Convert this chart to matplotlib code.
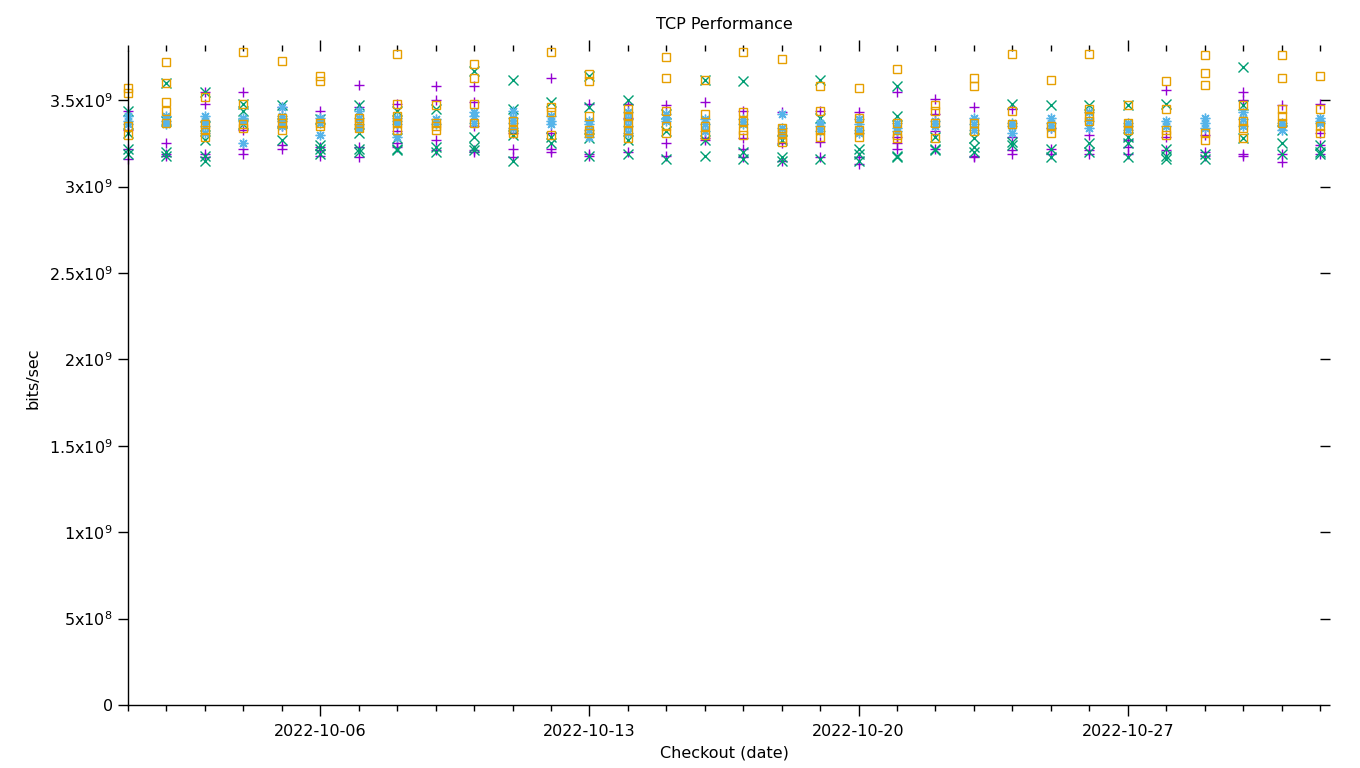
import datetime as dt
import math
import matplotlib
matplotlib.use("Agg")
import matplotlib.pyplot as plt
import matplotlib.dates as mdates
from matplotlib.ticker import FuncFormatter, FixedLocator

start = dt.date(2022, 10, 1)
dates = [start + dt.timedelta(days=i) for i in range(32)]

# values in units of 1e9 bits/sec, one list per day
series_purple = [
    [3.33, 3.22, 3.16, 3.44], [3.25, 3.18, 3.19], [3.55, 3.48, 3.17, 3.19], [3.55, 3.33, 3.22, 3.19],
    [3.46, 3.24, 3.22, 3.35], [3.44, 3.23, 3.18, 3.21], [3.59, 3.46, 3.23, 3.17], [3.48, 3.25, 3.23, 3.32],
    [3.58, 3.50, 3.27, 3.21], [3.58, 3.49, 3.35, 3.21, 3.20], [3.31, 3.22, 3.17], [3.63, 3.22, 3.20, 3.31],
    [3.48, 3.18, 3.19], [3.48, 3.40, 3.20], [3.47, 3.25, 3.18], [3.49, 3.28, 3.27],
    [3.44, 3.28, 3.22, 3.17], [3.43, 3.25, 3.15], [3.44, 3.26, 3.17], [3.43, 3.17, 3.13],
    [3.55, 3.25, 3.22, 3.29], [3.51, 3.42, 3.32, 3.22], [3.46, 3.18, 3.17], [3.45, 3.29, 3.21, 3.19],
    [3.34, 3.22, 3.19], [3.30, 3.21, 3.19], [3.27, 3.23, 3.19], [3.56, 3.29, 3.21],
    [3.30, 3.20, 3.18], [3.55, 3.50, 3.19, 3.18], [3.47, 3.19, 3.14], [3.48, 3.31, 3.24, 3.19],
]
series_green = [
    [3.44, 3.31, 3.22, 3.19], [3.60, 3.18, 3.20, 3.38], [3.55, 3.27, 3.15, 3.18, 3.35], [3.48, 3.44, 3.36],
    [3.47, 3.27, 3.37], [3.39, 3.24, 3.19, 3.22], [3.47, 3.31, 3.22, 3.20], [3.44, 3.28, 3.22, 3.21],
    [3.45, 3.23, 3.20], [3.67, 3.29, 3.23, 3.21], [3.62, 3.45, 3.30, 3.15], [3.49, 3.29, 3.25],
    [3.64, 3.46, 3.28, 3.18], [3.50, 3.27, 3.19], [3.42, 3.32, 3.16], [3.62, 3.27, 3.18],
    [3.61, 3.20, 3.16], [3.27, 3.17, 3.15], [3.62, 3.40, 3.16], [3.22, 3.19, 3.15],
    [3.58, 3.41, 3.18, 3.17], [3.29, 3.22, 3.21], [3.28, 3.23, 3.20], [3.48, 3.26, 3.24],
    [3.47, 3.22, 3.17], [3.47, 3.25, 3.20], [3.47, 3.29, 3.25, 3.17], [3.48, 3.22, 3.18, 3.16],
    [3.19, 3.16], [3.69, 3.47, 3.28], [3.33, 3.25, 3.19], [3.24, 3.20, 3.19],
]
series_blue = [
    [3.41, 3.38, 3.36], [3.41, 3.38, 3.36], [3.41, 3.38, 3.35, 3.31], [3.40, 3.38, 3.25],
    [3.46, 3.41, 3.38, 3.35], [3.40, 3.37, 3.30], [3.44, 3.40, 3.36, 3.34], [3.40, 3.38, 3.36, 3.29],
    [3.39, 3.36], [3.43, 3.41, 3.37], [3.44, 3.40, 3.37, 3.34], [3.41, 3.38, 3.36],
    [3.38, 3.36, 3.33, 3.29], [3.43, 3.39, 3.35, 3.31], [3.42, 3.40, 3.38], [3.39, 3.36, 3.32],
    [3.39, 3.36], [3.42, 3.34, 3.30], [3.37, 3.35, 3.32], [3.39, 3.36, 3.33, 3.31],
    [3.37, 3.34, 3.32], [3.38, 3.35], [3.40, 3.36, 3.33], [3.37, 3.35, 3.31],
    [3.40, 3.37, 3.34], [3.43, 3.38, 3.34], [3.37, 3.35, 3.33], [3.38, 3.35],
    [3.40, 3.37, 3.34], [3.43, 3.39, 3.35], [3.37, 3.35, 3.33], [3.40, 3.38, 3.37],
]
series_orange = [
    [3.57, 3.54, 3.35, 3.30], [3.72, 3.60, 3.49, 3.44, 3.37], [3.52, 3.36, 3.33, 3.29], [3.78, 3.48, 3.36, 3.34],
    [3.73, 3.40, 3.37, 3.33], [3.64, 3.61, 3.37, 3.35], [3.40, 3.37, 3.34], [3.77, 3.48, 3.41, 3.37, 3.33],
    [3.47, 3.37, 3.35, 3.33], [3.71, 3.63, 3.48, 3.37], [3.38, 3.33, 3.31], [3.78, 3.46, 3.43, 3.30],
    [3.65, 3.61, 3.41, 3.33, 3.31], [3.45, 3.41, 3.37, 3.33, 3.28], [3.75, 3.63, 3.44, 3.35, 3.31], [3.62, 3.42, 3.35, 3.30],
    [3.78, 3.43, 3.38, 3.33, 3.30], [3.74, 3.34, 3.31, 3.28, 3.26], [3.58, 3.44, 3.33, 3.29], [3.57, 3.40, 3.33, 3.29],
    [3.68, 3.37, 3.30, 3.28], [3.47, 3.44, 3.37, 3.28], [3.63, 3.58, 3.37, 3.32], [3.77, 3.44, 3.36],
    [3.62, 3.35, 3.31], [3.77, 3.45, 3.41, 3.38], [3.47, 3.37, 3.33], [3.61, 3.45, 3.33, 3.30],
    [3.76, 3.66, 3.59, 3.31, 3.27], [3.47, 3.38, 3.34, 3.28], [3.76, 3.63, 3.45, 3.41, 3.37], [3.64, 3.45, 3.35, 3.31],
]

title = "TCP Performance"
xlabel = "Checkout (date)"
ylabel = "bits/sec"

W, H = 1360, 768
fig = plt.figure(figsize=(W / 100, H / 100), dpi=100)
ax = fig.add_axes([128 / W, 1 - 705 / H, (1320 - 128) / W, (705 - 51) / H])

styles = [
    (series_purple, "#9400d3", "+", 7.0),
    (series_green, "#009e73", "x", 6.5),
    (series_blue, "#56b4e9", (8, 2, 0), 7.0),
    (series_orange, "#e69f00", "s", 5.5),
]
for data, color, marker, ms in styles:
    xs, ys = [], []
    for d, vals in zip(dates, data):
        for v in vals:
            xs.append(d)
            ys.append(v * 1e9)
    ax.plot(xs, ys, linestyle="none", marker=marker, markersize=ms,
            markeredgecolor=color, markerfacecolor="none" if marker == "s" else color,
            markeredgewidth=1.0, clip_on=False)

ax.set_xlim(mdates.date2num(dates[0]), mdates.date2num(dates[-1]))
ax.set_ylim(0, 3.785e9)

for s in ("top", "right"):
    ax.spines[s].set_visible(False)
for s in ("left", "bottom"):
    ax.spines[s].set_linewidth(1.0)

ax.xaxis.set_major_locator(mdates.DayLocator(bymonthday=[6, 13, 20, 27]))
ax.xaxis.set_minor_locator(mdates.DayLocator())
ax.xaxis.set_major_formatter(mdates.DateFormatter("%Y-%m-%d"))

yt = [0, 0.5e9, 1e9, 1.5e9, 2e9, 2.5e9, 3e9, 3.5e9]
ax.yaxis.set_major_locator(FixedLocator(yt))


def yfmt(v, pos):
    if v == 0:
        return "0"
    e = int(math.floor(math.log10(v)))
    m = v / 10 ** e
    ms = ("%.1f" % m).rstrip("0").rstrip(".")
    return ms + "x10$^{%d}$" % e


ax.yaxis.set_major_formatter(FuncFormatter(yfmt))
ax.tick_params(axis="both", which="both", direction="out", top=True, right=True,
               labelsize=11.5, width=1.0, color="black", labelcolor="black")
ax.tick_params(axis="x", which="major", length=8, pad=6)
ax.tick_params(axis="x", which="minor", length=4)
ax.tick_params(axis="y", which="major", length=7, pad=4)

ax.set_title(title, fontsize=11.5, pad=16)
ax.set_xlabel(xlabel, fontsize=11.5, labelpad=4)
ax.set_ylabel(ylabel, fontsize=11.5, labelpad=6)

fig.savefig("out.png", dpi=100)
